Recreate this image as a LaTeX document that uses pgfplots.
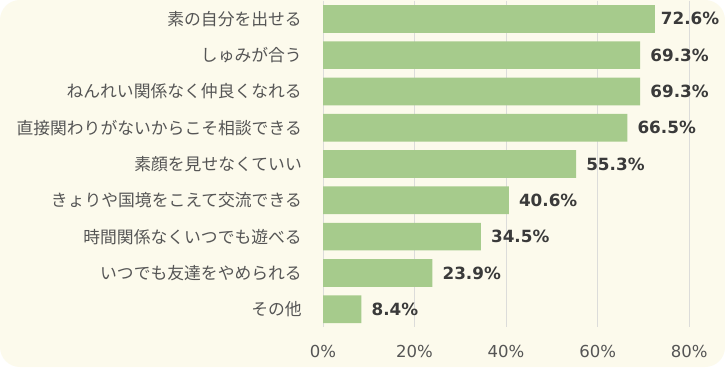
\documentclass[border=0pt]{standalone}
\usepackage{pgfplots}
\pgfplotsset{compat=1.18}
\usepackage{fontspec}
\setmainfont{DejaVu Sans}
\newfontfamily\jp{Noto Sans CJK JP}
\definecolor{bgc}{RGB}{252,250,236}
\definecolor{barc}{RGB}{166,203,140}
\definecolor{gridc}{RGB}{220,220,218}
\definecolor{labc}{RGB}{85,85,85}
\definecolor{valc}{RGB}{58,58,58}
\begin{document}
\begin{tikzpicture}
\path[use as bounding box] (0,0) rectangle (725pt,367pt);
\fill[white] (0,0) rectangle (725pt,367pt);
\fill[bgc, rounded corners=20pt] (0,0) rectangle (725pt,367pt);
\begin{axis}[
  at={(323pt,39.65pt)}, anchor=south west,
  scale only axis, width=400pt, height=326.7pt,
  xmin=0, xmax=87.4,
  ymin=-0.5, ymax=8.5, y dir=reverse,
  xbar, bar width=27.7pt, bar shift=0pt,
  axis line style={draw=none},
  major tick length=0pt,
  xmajorgrids, grid style={gridc, line width=1pt},
  xtick={0,20,40,60,80},
  xticklabels={0\%,20\%,40\%,60\%,80\%},
  xticklabel style={anchor=center, yshift=-24.5pt, font=\fontsize{16.5}{18}\selectfont, text=labc},
  ytick={0,1,2,3,4,5,6,7,8},
  yticklabels={素の自分を出せる,しゅみが合う,ねんれい関係なく仲良くなれる,直接関わりがないからこそ相談できる,素顔を見せなくていい,きょりや国境をこえて交流できる,時間関係なくいつでも遊べる,いつでも友達をやめられる,その他},
  yticklabel style={anchor=east, inner sep=0pt, xshift=-21pt, font=\jp\fontsize{16.8}{18}\selectfont, text=labc},
  /pgf/number format/assume math mode=true,
  nodes near coords={\pgfmathprintnumber[fixed,fixed zerofill,precision=1]{\pgfplotspointmeta}\%},
  nodes near coords style={anchor=west, inner sep=0pt, font=\bfseries\fontsize{16.8}{18}\selectfont, text=valc},
  clip=false,
]
\addplot[fill=barc, draw=none, nodes near coords style={xshift=5.5pt}] coordinates {
(72.6,0)};
\addplot[fill=barc, draw=none, nodes near coords style={xshift=10pt}] coordinates {
(69.3,1) (69.3,2) (66.5,3) (55.3,4) (40.6,5) (34.5,6) (23.9,7) (8.4,8)};
\end{axis}
\end{tikzpicture}
\end{document}
